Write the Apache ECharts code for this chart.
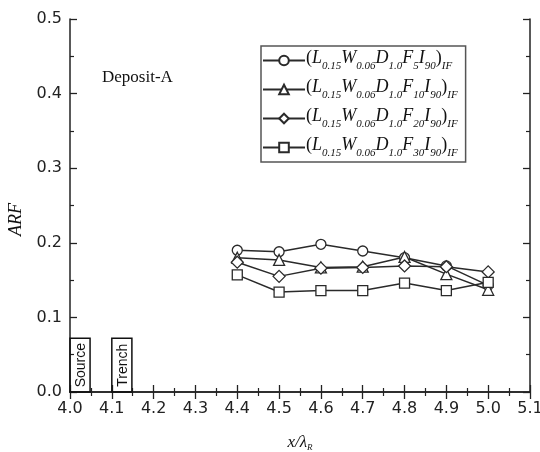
<!DOCTYPE html>
<html>
<head>
<meta charset="utf-8">
<script src="https://cdn.jsdelivr.net/npm/echarts@6/dist/echarts.min.js"></script>
<style>html,body{margin:0;padding:0;background:#fff}#c{width:540px;height:452px}</style>
</head>
<body>
<div id="c"></div>
<script>
var xValues = [4.4, 4.5, 4.6, 4.7, 4.8, 4.9, 5.0];
var arfF5  = [0.190, 0.188, 0.198, 0.189, 0.180, 0.169, 0.143];
var arfF10 = [0.180, 0.177, 0.167, 0.168, 0.181, 0.158, 0.137];
var arfF20 = [0.174, 0.155, 0.166, 0.167, 0.169, 0.168, 0.161];
var arfF30 = [0.157, 0.134, 0.136, 0.136, 0.146, 0.136, 0.147];
var fValues = ['5', '10', '20', '30'];
var symbols = ['circle', 'triangle', 'diamond', 'rect'];
var boxStart = [4.0, 4.1];
var boxEnd = [4.048, 4.148];
var boxHeight = [0.072, 0.072];
var boxLabels = ['Source', 'Trench'];

var seriesValues = [arfF5, arfF10, arfF20, arfF30];
var names = fValues.map(function (f) { return '(L0.15W0.06D1.0F' + f + 'I90)IF'; });

function pairs(ys) { return xValues.map(function (x, i) { return [x, ys[i]]; }); }

var lineSeries = seriesValues.map(function (ys, k) {
  return {
    name: names[k], type: 'line', data: pairs(ys),
    symbol: symbols[k], symbolSize: k === 1 ? 11 : (k === 2 ? 12 : 10),
    lineStyle: { color: '#2a2a2a', width: 1.5 },
    itemStyle: { color: '#fff', borderColor: '#2a2a2a', borderWidth: 1.3 },
    z: 3
  };
});

var boxData = boxLabels.map(function (l, i) { return [boxStart[i], boxEnd[i], boxHeight[i], l]; });

var boxSeries = {
  type: 'custom', name: 'boxes', data: boxData, silent: true, z: 2,
  renderItem: function (params, api) {
    var p0 = api.coord([api.value(0), api.value(2)]);
    var p1 = api.coord([api.value(1), 0]);
    var label = boxLabels[params.dataIndex];
    return {
      type: 'group',
      children: [
        { type: 'rect', shape: { x: p0[0], y: p0[1], width: p1[0] - p0[0], height: p1[1] - p0[1] },
          style: { fill: 'none', stroke: '#111', lineWidth: 1.5 } },
        { type: 'text', x: (p0[0] + p1[0]) / 2 + 1, y: (p0[1] + p1[1]) / 2, rotation: Math.PI / 2,
          style: { text: label, align: 'center', verticalAlign: 'middle',
                   font: '14px "Liberation Sans", Arial, sans-serif', fill: '#111' } }
      ]
    };
  }
};

var rich = {
  m: { fontFamily: 'Liberation Serif', fontStyle: 'italic', fontSize: 18, color: '#111', lineHeight: 20, verticalAlign: 'top' },
  p: { fontFamily: 'Liberation Serif', fontSize: 18, color: '#111', lineHeight: 20, verticalAlign: 'top' },
  s: { fontFamily: 'Liberation Serif', fontStyle: 'italic', fontSize: 11, color: '#111', lineHeight: 11, verticalAlign: 'bottom' },
  gap: { lineHeight: 23, fontSize: 1, width: 0 }
};

function legendText(name) {
  var k = names.indexOf(name);
  var f = fValues[k];
  return '{gap|}{p|(}{m|L}{s|0.15}{m|W}{s|0.06}{m|D}{s|1.0}{m|F}{s|' + f + '}{m|I}{s|90}{p|)}{s|IF}';
}

var axisCommon = {
  type: 'value',
  axisLine: { lineStyle: { color: '#222', width: 1.5 } },
  axisTick: { inside: true, length: 7, lineStyle: { color: '#222', width: 1.3 } },
  minorTick: { show: true, splitNumber: 2, length: 4, lineStyle: { color: '#222', width: 1.2 } },
  splitLine: { show: false }
};

var labelStyle = { fontFamily: 'DejaVu Sans', fontSize: 16, color: '#222' };

var chart = echarts.init(document.getElementById('c'), null, { renderer: 'canvas' });
chart.setOption({
  animation: false,
  backgroundColor: '#fff',
  grid: { left: 70, right: 10, top: 19, bottom: 60, containLabel: false, outerBoundsMode: 'none' },
  title: {
    text: 'Deposit-A', left: 97, top: 64,
    textStyle: { fontFamily: 'Liberation Serif', fontWeight: 'normal', fontSize: 17, color: '#111' }
  },
  legend: {
    orient: 'vertical', left: 261, top: 46,
    data: names,
    padding: [3, 8, 3, 1], itemGap: 6,
    itemWidth: 42, itemHeight: 12,
    borderColor: '#555', borderWidth: 1.5,
    formatter: legendText,
    textStyle: { rich: rich, padding: [0, 0, 0, -4] },
    inactiveColor: '#333'
  },
  xAxis: [
    Object.assign({}, axisCommon, {
      position: 'bottom', min: 4.0, max: 5.1, interval: 0.1,
      axisLabel: Object.assign({ formatter: function (v) { return v.toFixed(1); }, margin: 9 }, labelStyle),
      name: '{m|x/λ}{s|R}', nameLocation: 'middle', nameGap: 42,
      nameTextStyle: { rich: {
        m: { fontFamily: 'Liberation Serif', fontStyle: 'italic', fontSize: 17, color: '#111', lineHeight: 18, verticalAlign: 'top' },
        s: { fontFamily: 'Liberation Serif', fontStyle: 'italic', fontSize: 9, color: '#111', lineHeight: 9, verticalAlign: 'bottom' } } }
    }),
    Object.assign({}, axisCommon, {
      position: 'top', min: 4.0, max: 5.1, interval: 0.1,
      axisLabel: { show: false }
    })
  ],
  yAxis: [
    Object.assign({}, axisCommon, {
      position: 'left', min: 0, max: 0.5, interval: 0.1,
      axisLabel: Object.assign({ formatter: function (v) { return v.toFixed(1); }, margin: 8 }, labelStyle),
      name: 'ARF', nameLocation: 'middle', nameGap: 44,
      nameTextStyle: { fontFamily: 'Liberation Serif', fontStyle: 'italic', fontSize: 18, color: '#111', padding: [0, 28, 0, 0] }
    }),
    Object.assign({}, axisCommon, {
      position: 'right', min: 0, max: 0.5, interval: 0.1,
      axisLabel: { show: false }
    })
  ],
  series: [boxSeries].concat(lineSeries)
});
</script>
</body>
</html>
